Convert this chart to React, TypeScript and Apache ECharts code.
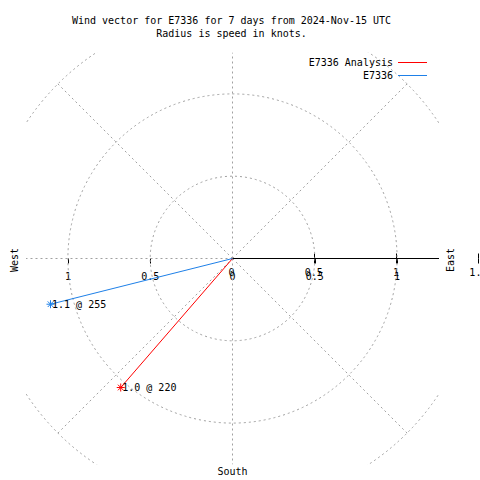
import React, { useEffect, useRef } from "react";
import * as echarts from "echarts";

// ---- data ----
const titleLines = [
  "Wind vector for E7336 for 7 days from 2024-Nov-15 UTC",
  "Radius is speed in knots.",
];
const seriesNames = ["E7336 Analysis", "E7336"];
const seriesColors = ["#ff0000", "#1e80e8"];
const speedKnots = [1.037, 1.14];
const directionDeg = [220.9, 255.9];
const ringRadii = [0.5, 1, 1.5];
const spokeAnglesDeg = [0, 45, 90, 135, 180, 225, 270, 315];
const xTickLabelValues = [-1, -0.5, 0, 0.5, 1];
const xTickMarkValues = [-1, -0.5, 0.5, 1];
const rTickLabelValues = [0, 0.5, 1, 1.5];
const rTickMarkValues = [0.5, 1, 1.5];
const axisNames = { west: "West", east: "East", south: "South" };

// ---- layout / style ----
const FONT = "'DejaVu Sans Mono', 'Liberation Mono', monospace";
const CX = 232.5;
const CY = 258.5;
const UNIT = 164.6;
const VIEW = 1.25;
const RMAX = 1.5;
const HALF = VIEW * UNIT;
const GRID_COLOR = "#a0a0a0";
const STAR = "path://M4,0L4,8M0,4L8,4M1.2,1.2L6.8,6.8M1.2,6.8L6.8,1.2";
const txt = { fontFamily: FONT, fontSize: 10, color: "#000", lineHeight: 12 };

function buildOption() {
  const hidden = {
    axisLine: { show: false, onZero: false },
    axisTick: { show: false },
    axisLabel: { show: false },
    splitLine: { show: false },
  };
  const vectorSeries = seriesNames.map((name, i) => {
    const a = (directionDeg[i] * Math.PI) / 180;
    const end = [speedKnots[i] * Math.sin(a), speedKnots[i] * Math.cos(a)];
    const color = seriesColors[i];
    return {
      type: "line",
      name,
      xAxisIndex: 0,
      yAxisIndex: 0,
      z: 5,
      clip: false,
      silent: true,
      symbol: STAR,
      symbolSize: 8,
      showSymbol: true,
      lineStyle: { color, width: 1 },
      itemStyle: { color, borderColor: color, borderWidth: 1 },
      data: [
        { value: [0, 0], symbol: "none" },
        {
          value: end,
          label: {
            show: true,
            position: "right",
            distance: -3,
            formatter: `${speedKnots[i].toFixed(1)} @ ${Math.floor(directionDeg[i])}`,
            ...txt,
          },
        },
      ],
    };
  });

  return {
    animation: false,
    backgroundColor: "#fff",
    title: {
      text: titleLines.join("\n"),
      left: CX - 1,
      top: 14,
      padding: 0,
      textAlign: "center",
      textStyle: { ...txt, fontWeight: "normal", lineHeight: 13 },
    },
    legend: {
      orient: "vertical",
      right: 480 - 427,
      top: 56.5,
      padding: 0,
      align: "right",
      itemWidth: 29,
      itemHeight: 1,
      itemGap: 1,
      icon: "rect",
      itemStyle: { borderWidth: 0 },
      selectedMode: false,
      textStyle: txt,
      data: seriesNames,
    },
    grid: [
      {
        left: CX - HALF,
        top: CY - HALF,
        width: 2 * HALF,
        height: 2 * HALF,
        outerBoundsMode: "none",
        containLabel: false,
      },
      {
        left: CX - 1 - RMAX * UNIT,
        top: CY - HALF,
        width: 2 * RMAX * UNIT,
        height: 2 * HALF,
        outerBoundsMode: "none",
        containLabel: false,
      },
    ],
    xAxis: [
      {
        gridIndex: 0,
        type: "value",
        min: -VIEW,
        max: VIEW,
        position: "bottom",
        offset: -HALF,
        axisLine: { show: false, onZero: false },
        axisTick: { show: true, length: 5, customValues: xTickMarkValues, lineStyle: { color: "#000" } },
        axisLabel: {
          show: true,
          customValues: xTickLabelValues,
          formatter: (v: number) => String(Math.abs(v)),
          margin: 11.5,
          hideOverlap: false,
          ...txt,
        },
        splitLine: { show: false },
        name: axisNames.south,
        nameLocation: "middle",
        nameGap: 206.5,
        nameTextStyle: txt,
      },
      {
        gridIndex: 1,
        type: "value",
        min: -RMAX,
        max: RMAX,
        position: "bottom",
        offset: -HALF,
        axisLine: { show: false, onZero: false },
        axisTick: { show: true, length: 5, customValues: rTickMarkValues, lineStyle: { color: "#000" } },
        axisLabel: {
          show: true,
          customValues: rTickLabelValues,
          showMaxLabel: true,
          hideOverlap: false,
          margin: 8,
          ...txt,
        },
        splitLine: { show: false },
      },
      {
        gridIndex: 1,
        type: "value",
        min: -RMAX,
        max: RMAX,
        position: "top",
        offset: -HALF,
        axisLine: { show: false, onZero: false },
        axisTick: { show: true, length: 5, customValues: rTickMarkValues, lineStyle: { color: "#000" } },
        axisLabel: { show: false },
        splitLine: { show: false },
      },
    ],
    yAxis: [
      {
        gridIndex: 0,
        type: "value",
        min: -VIEW,
        max: VIEW,
        position: "left",
        ...hidden,
        name: axisNames.west,
        nameLocation: "middle",
        nameRotate: 90,
        nameGap: 6,
        nameTextStyle: { ...txt, padding: [0, 3, 0, 0] },
      },
      {
        gridIndex: 0,
        type: "value",
        min: -VIEW,
        max: VIEW,
        position: "right",
        ...hidden,
        name: axisNames.east,
        nameLocation: "middle",
        nameRotate: 90,
        nameGap: 6,
        nameTextStyle: { ...txt, padding: [0, 3, 0, 0] },
      },
      {
        gridIndex: 1,
        type: "value",
        min: -VIEW,
        max: VIEW,
        ...hidden,
      },
    ],
    series: [
      {
        type: "custom",
        xAxisIndex: 0,
        yAxisIndex: 0,
        clip: true,
        silent: true,
        z: 1,
        data: ringRadii.map((r) => [r, 0]),
        renderItem: (_p: any, api: any) => {
          const r = api.value(0);
          const c = api.coord([0, 0]);
          const rad = api.size([r, 0])[0];
          return {
            type: "circle",
            shape: { cx: c[0], cy: c[1], r: rad },
            style: { fill: "none", stroke: GRID_COLOR, lineWidth: 1, lineDash: [2, 3] },
          };
        },
      },
      {
        type: "custom",
        xAxisIndex: 0,
        yAxisIndex: 0,
        clip: true,
        silent: true,
        z: 2,
        data: spokeAnglesDeg.map((a) => [a, 0]),
        renderItem: (_p: any, api: any) => {
          const deg = api.value(0);
          const a = (deg * Math.PI) / 180;
          const c = api.coord([0, 0]);
          const e = api.coord([RMAX * Math.sin(a), RMAX * Math.cos(a)]);
          const isAxis = deg === 90;
          return {
            type: "line",
            z2: isAxis ? 10 : 1,
            shape: { x1: c[0], y1: c[1], x2: e[0], y2: e[1] },
            style: isAxis
              ? { stroke: "#000", lineWidth: 1 }
              : { stroke: GRID_COLOR, lineWidth: 1, lineDash: [2, 3] },
          };
        },
      },
      ...vectorSeries,
    ],
  };
}

export default function App() {
  const ref = useRef<HTMLDivElement>(null);
  useEffect(() => {
    if (!ref.current) return;
    const chart = echarts.init(ref.current, null, { renderer: "svg" });
    chart.setOption(buildOption() as any);
    return () => chart.dispose();
  }, []);
  return (
    <div
      ref={ref}
      style={{ position: "absolute", left: 0, top: 0, width: 480, height: 480, background: "#fff" }}
    />
  );
}
